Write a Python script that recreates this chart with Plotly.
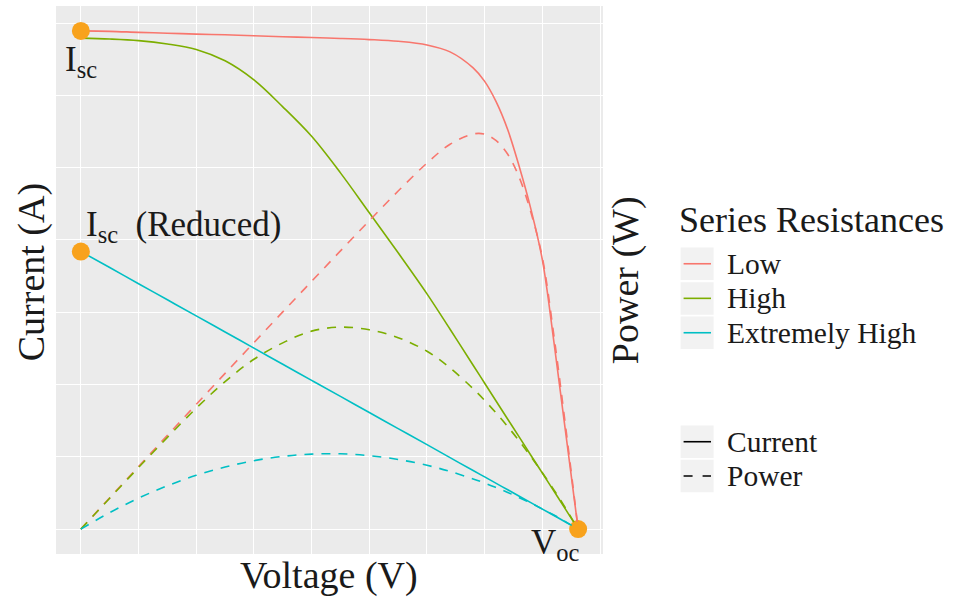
import plotly.graph_objects as go

# ---------------- data ----------------
voltage = [0, 0.025, 0.05, 0.075, 0.1, 0.125, 0.15, 0.175, 0.2, 0.225, 0.25, 0.275,
           0.3, 0.32, 0.34, 0.35, 0.36, 0.37, 0.38, 0.39, 0.40, 0.41, 0.42, 0.431]

current_low = [3.446, 3.443, 3.436, 3.430, 3.424, 3.419, 3.412, 3.406, 3.400, 3.394, 3.386, 3.374,
               3.349, 3.301, 3.190, 3.097, 2.955, 2.762, 2.506, 2.215, 1.862, 1.295, 0.680, 0.0]
current_high = [3.396, 3.390, 3.379, 3.356, 3.318, 3.239, 3.107, 2.921, 2.717, 2.464, 2.188, 1.911,
                1.627, 1.382, 1.133, 1.009, 0.884, 0.760, 0.636, 0.511, 0.387, 0.263, 0.138, 0.0]
current_xhigh = [1.920, 1.809, 1.697, 1.586, 1.475, 1.363, 1.252, 1.140, 1.029, 0.918, 0.806, 0.695,
                 0.584, 0.494, 0.405, 0.361, 0.316, 0.272, 0.227, 0.183, 0.138, 0.094, 0.049, 0.0]

power_low = [0, 0.0861, 0.1718, 0.2573, 0.3424, 0.4274, 0.5118, 0.5961, 0.680, 0.7637, 0.8465, 0.9279,
             1.0047, 1.0563, 1.0846, 1.0840, 1.0660, 1.0290, 0.9650, 0.8700, 0.7450, 0.5310, 0.2856, 0]
power_high = [0, 0.0848, 0.1690, 0.2517, 0.3318, 0.4049, 0.4661, 0.5112, 0.5434, 0.5544, 0.5470, 0.5255,
              0.4881, 0.4422, 0.3852, 0.3532, 0.3182, 0.2812, 0.2417, 0.1993, 0.1548, 0.1078, 0.0580, 0]
power_xhigh = [0, 0.0452, 0.0849, 0.1190, 0.1475, 0.1704, 0.1878, 0.1995, 0.2058, 0.2066, 0.2015, 0.1911,
               0.1752, 0.1581, 0.1377, 0.1264, 0.1138, 0.1006, 0.0863, 0.0714, 0.0552, 0.0385, 0.0206, 0]

series_names = ["Low", "High", "Extremely High"]
series_colors = ["#F8766D", "#7CAE00", "#00BFC4"]
linetype_names = ["Current", "Power"]

point_v = [0, 0, 0.431]
point_i = [3.446, 1.920, 0.0]

power_scale = 2.52  # secondary axis factor (display units per W)

# ---------------- figure ----------------
FONT = "Liberation Serif"
TXT = "#1A1A1A"
fig = go.Figure()

currents = [current_low, current_high, current_xhigh]
powers = [power_low, power_high, power_xhigh]

for name, col, pw in zip(series_names, series_colors, powers):
    fig.add_trace(go.Scatter(x=voltage, y=pw, mode="lines", yaxis="y2", name=name + " power",
                             line=dict(color=col, width=1.6, dash="9px,8px", shape="spline", smoothing=1.0)))
for name, col, cur in zip(series_names, series_colors, currents):
    fig.add_trace(go.Scatter(x=voltage, y=cur, mode="lines", name=name,
                             line=dict(color=col, width=1.6, shape="spline", smoothing=1.0)))

fig.add_trace(go.Scatter(x=point_v, y=point_i, mode="markers",
                         marker=dict(color="#F8A21C", size=18), name="points"))

vmax = max(voltage)
imax = max(current_low)
xr = [-0.05 * vmax, 1.05 * vmax]
yr = [-0.05 * imax, 1.05 * imax]

L, R, T, B = 55.6, 602.7, 6.1, 554.2
W, H = R - L, B - T
WIDTH, HEIGHT = 954, 599


def px(x):
    return (x - L) / W


def py(y):
    return (B - y) / H


annotations = []
shapes = []

# data point labels
annotations.append(dict(x=point_v[0], y=point_i[0], xref="x", yref="y", text="I<sub>sc</sub>",
                        showarrow=False, xanchor="center", yanchor="middle", yshift=-31, xshift=0,
                        font=dict(family=FONT, size=35, color=TXT)))
annotations.append(dict(x=point_v[1], y=point_i[1], xref="x", yref="y", text="I<sub>sc</sub>  (Reduced)",
                        showarrow=False, xanchor="left", yanchor="middle", yshift=25, xshift=3,
                        font=dict(family=FONT, size=35, color=TXT)))
annotations.append(dict(x=point_v[2], y=point_i[2], xref="x", yref="y", text="V<sub>oc</sub>",
                        showarrow=False, xanchor="right", yanchor="middle", yshift=-15, xshift=4,
                        font=dict(family=FONT, size=35, color=TXT)))

# axis titles
annotations.append(dict(x=px(329), y=py(576), xref="paper", yref="paper", text="Voltage (V)",
                        showarrow=False, xanchor="center", yanchor="middle",
                        font=dict(family=FONT, size=38, color=TXT)))
annotations.append(dict(x=px(31), y=py(272), xref="paper", yref="paper", text="Current (A)",
                        showarrow=False, xanchor="center", yanchor="middle", textangle=-90,
                        font=dict(family=FONT, size=38, color=TXT)))
annotations.append(dict(x=px(626), y=py(280), xref="paper", yref="paper", text="Power (W)",
                        showarrow=False, xanchor="center", yanchor="middle", textangle=-90,
                        font=dict(family=FONT, size=38, color=TXT)))

# legend (manual, ggplot style)
annotations.append(dict(x=px(677), y=py(220), xref="paper", yref="paper", text="Series Resistances",
                        showarrow=False, xanchor="left", yanchor="middle",
                        font=dict(family=FONT, size=36, color=TXT)))
key_tops = [247.7, 282.3, 316.7]
for name, col, top in zip(series_names, series_colors, key_tops):
    shapes.append(dict(type="rect", xref="paper", yref="paper", x0=px(680.3), x1=px(713.3),
                       y0=py(top + 32.5), y1=py(top), fillcolor="#F2F2F2", line=dict(width=0), layer="above"))
    cy = top + 16.2
    shapes.append(dict(type="line", xref="paper", yref="paper", x0=px(683.3), x1=px(710.7),
                       y0=py(cy), y1=py(cy), line=dict(color=col, width=1.6), layer="above"))
    annotations.append(dict(x=px(725), y=py(cy), xref="paper", yref="paper", text=name,
                            showarrow=False, xanchor="left", yanchor="middle",
                            font=dict(family=FONT, size=29.5, color=TXT)))

lt_tops = [425.7, 460.0]
lt_dash = ["solid", "9px,10px"]
for name, dsh, top in zip(linetype_names, lt_dash, lt_tops):
    shapes.append(dict(type="rect", xref="paper", yref="paper", x0=px(680.3), x1=px(713.3),
                       y0=py(top + 32.5), y1=py(top), fillcolor="#F2F2F2", line=dict(width=0), layer="above"))
    cy = top + 16.2
    shapes.append(dict(type="line", xref="paper", yref="paper", x0=px(683.3), x1=px(710.7),
                       y0=py(cy), y1=py(cy), line=dict(color="#000000", width=1.6, dash=dsh), layer="above"))
    annotations.append(dict(x=px(725), y=py(cy), xref="paper", yref="paper", text=name,
                            showarrow=False, xanchor="left", yanchor="middle",
                            font=dict(family=FONT, size=29.5, color=TXT)))

axis_common = dict(showticklabels=False, ticks="", showline=False, zeroline=False,
                   gridcolor="#FFFFFF", gridwidth=1.3)

fig.update_layout(
    width=WIDTH, height=HEIGHT,
    margin=dict(l=L, r=WIDTH - R, t=T, b=HEIGHT - B, autoexpand=False),
    paper_bgcolor="#FFFFFF", plot_bgcolor="#EBEBEB",
    showlegend=False,
    hovermode=False,
    xaxis=dict(range=xr, tick0=0, dtick=0.1, minor=dict(dtick=0.05, showgrid=True, gridcolor="#FFFFFF", gridwidth=0.6, ticks=""),
               **axis_common),
    yaxis=dict(range=yr, tick0=0, dtick=1.0, minor=dict(dtick=0.5, showgrid=True, gridcolor="#FFFFFF", gridwidth=0.6, ticks=""),
               **axis_common),
    yaxis2=dict(range=[yr[0] / power_scale, yr[1] / power_scale], overlaying="y", side="right",
                showgrid=False, showticklabels=False, ticks="", showline=False, zeroline=False),
    annotations=annotations,
    shapes=shapes,
    font=dict(family=FONT, color=TXT),
)

fig.write_html("out.html", config={"displayModeBar": False},
               post_script="document.body.style.margin='0';document.body.style.overflow='hidden';")
